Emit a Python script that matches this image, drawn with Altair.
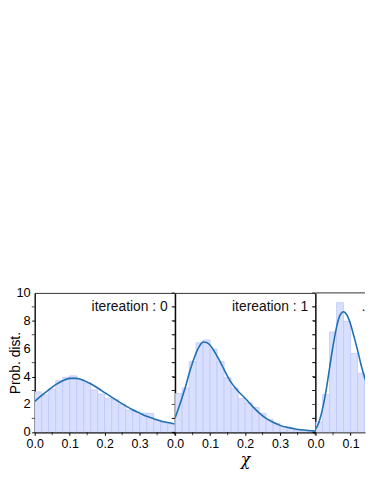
import altair as alt
import pandas as pd

FONT = "Liberation Sans"

# ---- data ----
bin_width = 0.02
bin_starts_12 = [0.00, 0.02, 0.04, 0.06, 0.08, 0.10, 0.12, 0.14, 0.16, 0.18,
                 0.20, 0.22, 0.24, 0.26, 0.28, 0.30, 0.32, 0.34, 0.36, 0.38]
hist_it0 = [2.9, 2.7, 3.1, 3.7, 3.95, 4.05, 3.8, 3.55, 3.05, 2.75,
            2.45, 2.35, 2.0, 1.6, 1.5, 1.38, 1.36, 0.88, 0.72, 0.62]
hist_it1 = [2.78, 3.18, 5.07, 6.42, 6.62, 5.97, 5.07, 3.91, 3.18, 2.42,
            2.12, 1.78, 1.36, 0.93, 0.65, 0.41, 0.30, 0.18, 0.13, 0.10]
bin_starts_3 = [0.00, 0.02, 0.04, 0.06, 0.08, 0.10, 0.12, 0.14]
hist_it2 = [0.74, 2.71, 7.2, 9.3, 7.96, 5.66, 4.24, 3.7]

curve_x_0 = [0.00, 0.02, 0.04, 0.06, 0.08, 0.10, 0.12, 0.14, 0.16, 0.18, 0.20,
             0.22, 0.24, 0.26, 0.28, 0.30, 0.32, 0.34, 0.36, 0.38, 0.40]
curve_y_0 = [2.22, 2.65, 3.05, 3.42, 3.70, 3.87, 3.87, 3.72, 3.48, 3.18, 2.85,
             2.52, 2.20, 1.90, 1.62, 1.38, 1.15, 0.98, 0.82, 0.70, 0.60]
curve_x_1 = [0.00, 0.01, 0.02, 0.03, 0.04, 0.05, 0.06, 0.07, 0.08, 0.09, 0.10,
             0.11, 0.12, 0.13, 0.14, 0.15, 0.16, 0.18, 0.20, 0.22, 0.24, 0.26,
             0.28, 0.30, 0.32, 0.34, 0.36, 0.38, 0.40]
curve_y_1 = [1.05, 1.75, 2.5, 3.3, 4.2, 5.0, 5.7, 6.2, 6.48, 6.45, 6.25,
             5.9, 5.45, 5.0, 4.5, 4.0, 3.58, 2.95, 2.45, 1.9, 1.4, 1.0,
             0.72, 0.50, 0.36, 0.26, 0.18, 0.13, 0.10]
curve_x_2 = [0.00, 0.01, 0.02, 0.03, 0.04, 0.05, 0.06, 0.07, 0.08, 0.09,
             0.10, 0.11, 0.12, 0.13, 0.14, 0.15]
curve_y_2 = [0.22, 0.75, 1.7, 3.0, 4.6, 6.2, 7.55, 8.4, 8.65, 8.4,
             7.75, 6.85, 5.9, 4.85, 3.95, 3.25]

labels = ["itereation : 0", "itereation : 1", "itereation : 2"]
y_major = [0, 2, 4, 6, 8, 10]
y_major_text = ["0", "2", "4", "6", "8", "10"]
y_minor = [1, 3, 5, 7, 9]
y_all = [0, 1, 2, 3, 4, 5, 6, 7, 8, 9, 10]
x_major = [0.0, 0.1, 0.2, 0.3]
x_minor = [0.05, 0.15, 0.25, 0.35, 0.4]

W = 141.5
H = 141
W3 = 50
XMAX = 0.4
XMAX3 = XMAX * W3 / W

BAR_FILL = "#d9dffe"
BAR_STROKE = "#bfc8fa"
LINE_COLOR = "#1f6fb2"


def panel(starts, heights, cx, cy, label, width, xmax, first, xtitle, last):
    bars_df = pd.DataFrame({"x0": starts,
                            "x1": [s + bin_width for s in starts],
                            "h": heights})
    curve_df = pd.DataFrame({"cx": cx, "cy": cy})
    xs = alt.Scale(domain=[0, xmax], nice=False, zero=False)
    ys = alt.Scale(domain=[0, 10], nice=False)
    xaxis = alt.Axis(values=[v for v in x_major if v <= xmax], format=".1f",
                     labelFlush=False, labelOverlap=False,
                     tickSize=3, grid=False, domainColor="black", tickColor="black",
                     labelFont=FONT, labelFontSize=12.5, labelColor="black",
                     labelPadding=2,
                     title=xtitle, titleFont="DejaVu Serif", titleFontStyle="italic",
                     titleFontWeight="normal", titleFontSize=16, titleColor="black",
                     titlePadding=2)
    if first:
        yaxis = alt.Axis(values=y_major, labels=False, tickSize=3,
                         grid=False, domainColor="black", tickColor="black",
                         title="Prob. dist.", titleFont=FONT,
                         titleFontSize=14, titleFontWeight="normal",
                         titleColor="black", titlePadding=9)
    else:
        yaxis = alt.Axis(values=y_major, labels=False, tickSize=3, grid=False,
                         domainColor="black", tickColor="black", title="")
    bars = alt.Chart(bars_df).mark_rect(fill=BAR_FILL, stroke=BAR_STROKE,
                                        strokeWidth=0.8, clip=True).encode(
        x=alt.X("x0:Q", scale=xs, axis=xaxis),
        x2="x1:Q",
        y=alt.Y("h:Q", scale=ys, axis=yaxis),
        y2=alt.datum(0),
    )
    line = alt.Chart(curve_df).mark_line(color=LINE_COLOR, strokeWidth=1.6,
                                         interpolate="monotone", clip=True).encode(
        x="cx:Q", y="cy:Q")
    # minor ticks outside left and bottom
    yminor = alt.Chart(pd.DataFrame({"v": y_minor})).mark_tick(
        orient="horizontal", size=3, thickness=1, color="black").encode(
        y="v:Q", x=alt.value(-1.5))
    xminor = alt.Chart(pd.DataFrame({"u": [v for v in x_minor if v <= xmax]})).mark_tick(
        orient="vertical", size=3, thickness=1, color="black").encode(
        x="u:Q", y=alt.value(H + 1.5))
    layers = [bars, line, yminor, xminor]
    if first:
        ylab = alt.Chart(pd.DataFrame({"v": y_major, "s": y_major_text})).mark_text(
            align="right", baseline="middle", font=FONT, fontSize=13,
            color="black").encode(y="v:Q", text="s:N", x=alt.value(-4))
        layers.append(ylab)
    if not last:
        rticks = alt.Chart(pd.DataFrame({"v": y_all})).mark_tick(
            orient="horizontal", size=3, thickness=1, color="black").encode(
            y="v:Q", x=alt.value(width - 1.5))
        layers.append(rticks)
        txt = alt.Chart(pd.DataFrame({"t": [label]})).mark_text(
            align="right", baseline="middle", font=FONT, fontSize=14,
            color="#111").encode(text="t:N", x=alt.value(width - 7), y=alt.value(14))
        layers.append(txt)
    else:
        top = alt.Chart(pd.DataFrame({"t": [label]})).mark_rule(
            color="#333", strokeWidth=1).encode(
            x=alt.value(0), x2=alt.value(width), y=alt.value(0))
        layers.append(top)
        txt = alt.Chart(pd.DataFrame({"t": [label]})).mark_text(
            align="left", baseline="middle", font=FONT, fontSize=14, clip=True,
            limit=4, ellipsis="", color="#111").encode(
            text="t:N", x=alt.value(46), y=alt.value(14))
        layers.append(txt)
    ch = alt.layer(*layers).properties(width=width, height=H)
    if last:
        ch = ch.properties(view=alt.ViewBackground(stroke="transparent"))
    return ch


p1 = panel(bin_starts_12, hist_it0, curve_x_0, curve_y_0, labels[0], W, XMAX, True, "", False)
p2 = panel(bin_starts_12, hist_it1, curve_x_1, curve_y_1, labels[1], W, XMAX, False, "χ", False)
p3 = panel(bin_starts_3, hist_it2, curve_x_2, curve_y_2, labels[2], W3, XMAX3, False, "", True)

chart = alt.hconcat(p1, p2, p3, spacing=0, bounds="flush").properties(
    padding={"left": 0, "top": 278.5, "right": 0, "bottom": 0}
).configure_view(stroke="#333", strokeWidth=1)

chart.save("out.html", embed_options={"renderer": "svg", "actions": False})
